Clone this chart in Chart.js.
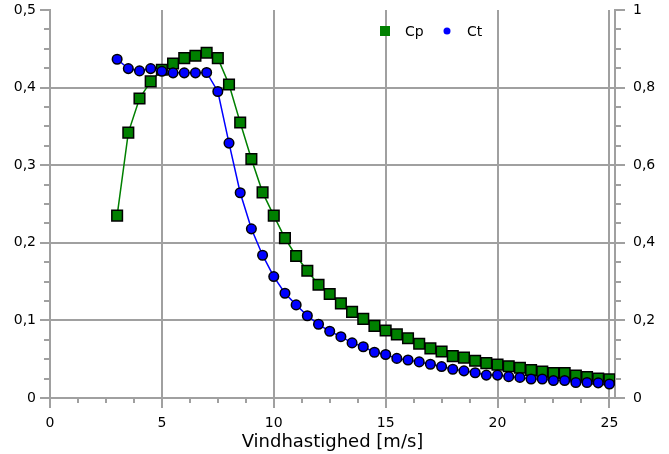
<!DOCTYPE html>
<html>
<head>
<meta charset="utf-8">
<script src="https://cdn.jsdelivr.net/npm/chart.js@4.4.1/dist/chart.umd.min.js"></script>
<style>
  body { margin: 0; background: #fff; }
</style>
</head>
<body>
<canvas id="myChart" width="669" height="454"></canvas>
<script>
const ctx = document.getElementById('myChart');

// wind speed [m/s]
const windSpeed = [3, 3.5, 4, 4.5, 5, 5.5, 6, 6.5, 7, 7.5,
  8, 8.5, 9, 9.5, 10, 10.5, 11, 11.5, 12, 12.5,
  13, 13.5, 14, 14.5, 15, 15.5, 16, 16.5, 17, 17.5,
  18, 18.5, 19, 19.5, 20, 20.5, 21, 21.5, 22, 22.5,
  23, 23.5, 24, 24.5, 25];

// power coefficient (left axis)
const cp = [0.235, 0.342, 0.386, 0.408, 0.423, 0.431, 0.438, 0.441, 0.445, 0.438,
  0.404, 0.355, 0.308, 0.265, 0.235, 0.206, 0.183, 0.164, 0.146, 0.134,
  0.122, 0.111, 0.102, 0.093, 0.087, 0.082, 0.077, 0.070, 0.064, 0.060,
  0.054, 0.052, 0.048, 0.045, 0.043, 0.041, 0.039, 0.036, 0.034, 0.032,
  0.032, 0.029, 0.027, 0.025, 0.024];

// thrust coefficient (right axis)
const ct = [0.873, 0.849, 0.843, 0.849, 0.842, 0.838, 0.838, 0.838, 0.839, 0.790,
  0.657, 0.529, 0.436, 0.368, 0.313, 0.270, 0.240, 0.212, 0.190, 0.172,
  0.158, 0.142, 0.132, 0.118, 0.112, 0.102, 0.098, 0.093, 0.087, 0.081,
  0.074, 0.070, 0.065, 0.059, 0.059, 0.055, 0.053, 0.049, 0.049, 0.045,
  0.045, 0.040, 0.040, 0.039, 0.036];

const xTicks = [0, 5, 10, 15, 20, 25];
const yLeftTicks = [0, 0.1, 0.2, 0.3, 0.4, 0.5];
const yRightTicks = [0, 0.2, 0.4, 0.6, 0.8, 1];

const gridColor = '#a0a0a0';
const font = 'DejaVu Sans';

function comma(v) {
  return String(Math.round(v * 100) / 100).replace('.', ',');
}

function fixPad(s) {
  s.paddingTop = 0;
  s.paddingBottom = 0;
  s.paddingLeft = 0;
  s.paddingRight = 0;
}

// small ticks between the labelled ones (quarters)
const minorTicks = {
  id: 'minorTicks',
  afterDraw(chart) {
    const c = chart.ctx, a = chart.chartArea, s = chart.scales;
    c.save();
    c.strokeStyle = gridColor;
    c.lineWidth = 2;
    c.beginPath();
    for (let i = 0; i < xTicks.length - 1; i++) {
      const step = (xTicks[i + 1] - xTicks[i]) / 4;
      for (let k = 1; k < 4; k++) {
        const px = Math.round(s.x.getPixelForValue(xTicks[i] + k * step));
        c.moveTo(px, a.bottom);
        c.lineTo(px, a.bottom + 5);
      }
    }
    for (let i = 0; i < yLeftTicks.length - 1; i++) {
      const step = (yLeftTicks[i + 1] - yLeftTicks[i]) / 4;
      for (let k = 1; k < 4; k++) {
        const py = Math.round(s.y.getPixelForValue(yLeftTicks[i] + k * step));
        c.moveTo(a.left - 6, py);
        c.lineTo(a.left, py);
      }
    }
    for (let i = 0; i < yRightTicks.length - 1; i++) {
      const step = (yRightTicks[i + 1] - yRightTicks[i]) / 4;
      for (let k = 1; k < 4; k++) {
        const py = Math.round(s.y2.getPixelForValue(yRightTicks[i] + k * step));
        c.moveTo(a.right, py);
        c.lineTo(a.right + 6, py);
      }
    }
    c.stroke();
    c.restore();
  }
};

// legend inside the plot, top right
const innerLegend = {
  id: 'innerLegend',
  afterDraw(chart) {
    const c = chart.ctx, a = chart.chartArea;
    const y = a.top + 21;
    let x = a.left + 335;
    c.save();
    c.font = '14px "' + font + '"';
    c.textBaseline = 'middle';
    c.fillStyle = 'green';
    c.fillRect(x - 5, y - 5, 10, 10);
    c.fillStyle = '#000';
    c.fillText('Cp', x + 20, y + 1);
    x += 62;
    c.fillStyle = 'blue';
    c.beginPath();
    c.arc(x, y, 3.5, 0, Math.PI * 2);
    c.fill();
    c.fillStyle = '#000';
    c.fillText('Ct', x + 20, y + 1);
    c.restore();
  }
};

new Chart(ctx, {
  type: 'line',
  data: {
    datasets: [{
      label: 'Cp',
      data: windSpeed.map((v, i) => ({x: v, y: cp[i]})),
      yAxisID: 'y',
      borderColor: 'green',
      borderWidth: 1.5,
      pointStyle: 'rect',
      pointRadius: 7.5,
      pointBackgroundColor: 'green',
      pointBorderColor: '#000',
      pointBorderWidth: 1.5,
      tension: 0,
      order: 1
    }, {
      label: 'Ct',
      data: windSpeed.map((v, i) => ({x: v, y: ct[i]})),
      yAxisID: 'y2',
      borderColor: 'blue',
      borderWidth: 1.5,
      pointStyle: 'circle',
      pointRadius: 4.8,
      pointBackgroundColor: 'blue',
      pointBorderColor: '#000',
      pointBorderWidth: 1.5,
      tension: 0,
      order: 0
    }]
  },
  options: {
    responsive: false,
    animation: false,
    layout: { padding: { top: 10, left: 0, right: 0, bottom: 0 } },
    plugins: {
      legend: { display: false },
      tooltip: { enabled: false }
    },
    scales: {
      x: {
        type: 'linear',
        min: 0,
        max: 25.25,
        afterFit: s => { s.height = 56; fixPad(s); },
        afterBuildTicks: s => { s.ticks = xTicks.map(v => ({value: v})); },
        ticks: {
          callback: v => comma(v),
          color: '#000',
          padding: 7,
          maxRotation: 0,
          font: { family: font, size: 14 }
        },
        grid: { color: gridColor, lineWidth: 2, tickLength: 10, tickColor: gridColor },
        border: { color: gridColor, width: 2 },
        title: {
          display: true,
          text: 'Vindhastighed [m/s]',
          color: '#000',
          font: { family: font, size: 18 },
          padding: { top: 0, bottom: 1 }
        }
      },
      y: {
        position: 'left',
        min: 0,
        max: 0.5,
        afterFit: s => { s.width = 50; fixPad(s); },
        afterBuildTicks: s => { s.ticks = yLeftTicks.map(v => ({value: v})); },
        ticks: {
          callback: v => comma(v),
          color: '#000',
          padding: 4,
          font: { family: font, size: 14 }
        },
        grid: {
          color: c => (c.tick && c.tick.value >= 0.5) ? 'rgba(0,0,0,0)' : gridColor,
          lineWidth: 2,
          tickLength: 10,
          tickColor: gridColor
        },
        border: { color: gridColor, width: 2 }
      },
      y2: {
        position: 'right',
        min: 0,
        max: 1,
        afterFit: s => { s.width = 54; fixPad(s); },
        afterBuildTicks: s => { s.ticks = yRightTicks.map(v => ({value: v})); },
        ticks: {
          callback: v => comma(v),
          color: '#000',
          padding: 8,
          font: { family: font, size: 14 }
        },
        grid: { drawOnChartArea: false, lineWidth: 2, tickLength: 10, tickColor: gridColor },
        border: { color: gridColor, width: 2 }
      }
    }
  },
  plugins: [minorTicks, innerLegend]
});
</script>
</body>
</html>
